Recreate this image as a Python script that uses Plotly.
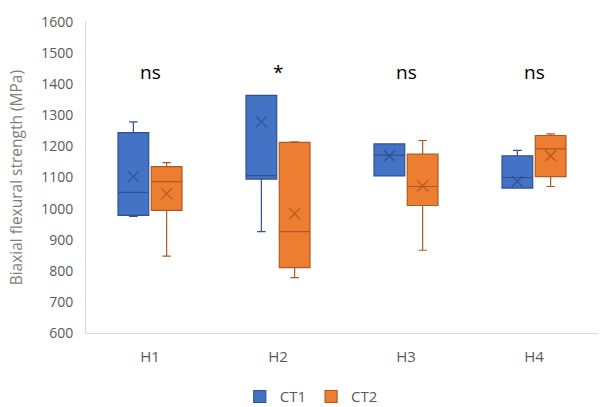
import plotly.graph_objects as go

# Hardness groups and per-group box statistics (MPa)
groups = ["H1", "H2", "H3", "H4"]

ct1_low = [975, 926, 1105, 1066]
ct1_q1 = [978, 1095, 1105, 1066]
ct1_med = [1052, 1106, 1172, 1100]
ct1_q3 = [1244, 1364, 1208, 1170]
ct1_high = [1279, 1364, 1208, 1187]
ct1_mean = [1103, 1279, 1170, 1087]

ct2_low = [847, 778, 866, 1071]
ct2_q1 = [994, 810, 1010, 1103]
ct2_med = [1087, 926, 1071, 1192]
ct2_q3 = [1135, 1213, 1175, 1235]
ct2_high = [1148, 1215, 1219, 1240]
ct2_mean = [1048, 984, 1073, 1170]

sig_labels = ["ns", "*", "ns", "ns"]
sig_y = 1440

series = [
    ("CT1", -0.13, ct1_low, ct1_q1, ct1_med, ct1_q3, ct1_high, ct1_mean,
     "#4472C4", "#2F528F"),
    ("CT2", 0.13, ct2_low, ct2_q1, ct2_med, ct2_q3, ct2_high, ct2_mean,
     "#ED7D31", "#AE5A21"),
]

FONT = "Open Sans, Arial, sans-serif"

fig = go.Figure()
idx = list(range(len(groups)))
for name, off, lo, q1, med, q3, hi, mean, fill, edge in series:
    xs = [i + off for i in idx]
    fig.add_trace(go.Box(
        name=name, x=xs, lowerfence=lo, q1=q1, median=med, q3=q3,
        upperfence=hi, width=0.24, fillcolor=fill,
        line=dict(color=edge, width=1.2), whiskerwidth=0.28,
        boxpoints=False, legendgroup=name,
    ))
    # mean marker drawn as a thin cross
    fig.add_trace(go.Scatter(
        x=xs, y=mean, mode="markers", showlegend=False, legendgroup=name,
        marker=dict(symbol="x-thin-open", size=11, color=edge,
                    line=dict(color=edge, width=1.2)),
        hoverinfo="skip",
    ))

for i, lab in enumerate(sig_labels):
    fig.add_annotation(x=i, y=sig_y, text=lab, showarrow=False,
                       font=dict(size=19, color="#000000", family=FONT))

fig.add_annotation(x=-0.137, y=0.5, xref="paper", yref="paper",
                   xanchor="center", yanchor="middle",
                   text="Biaxial flexural strength (MPa)", textangle=-90,
                   showarrow=False,
                   font=dict(size=15.5, color="#7f7f7f", family=FONT))

fig.update_layout(
    width=609, height=407,
    margin=dict(l=86, r=11, t=22, b=74, autoexpand=False),
    paper_bgcolor="white", plot_bgcolor="white",
    font=dict(family=FONT, color="#595959", size=14),
    showlegend=True,
    legend=dict(orientation="h", x=0.44, y=-0.205, xanchor="center",
                yanchor="middle", font=dict(size=15, color="#595959"),
                traceorder="normal"),
    xaxis=dict(range=[-0.5, 3.5], tickvals=idx, ticktext=groups,
               showgrid=False, zeroline=False, showline=True,
               linecolor="#d9d9d9", ticks="", tickfont=dict(size=15),
               ticklabelstandoff=10),
    yaxis=dict(range=[600, 1600], dtick=100, showgrid=False,
               zeroline=False, showline=True, linecolor="#d9d9d9",
               ticks="", tickfont=dict(size=14), ticklabelstandoff=9),
)

fig.write_html("out.html")
